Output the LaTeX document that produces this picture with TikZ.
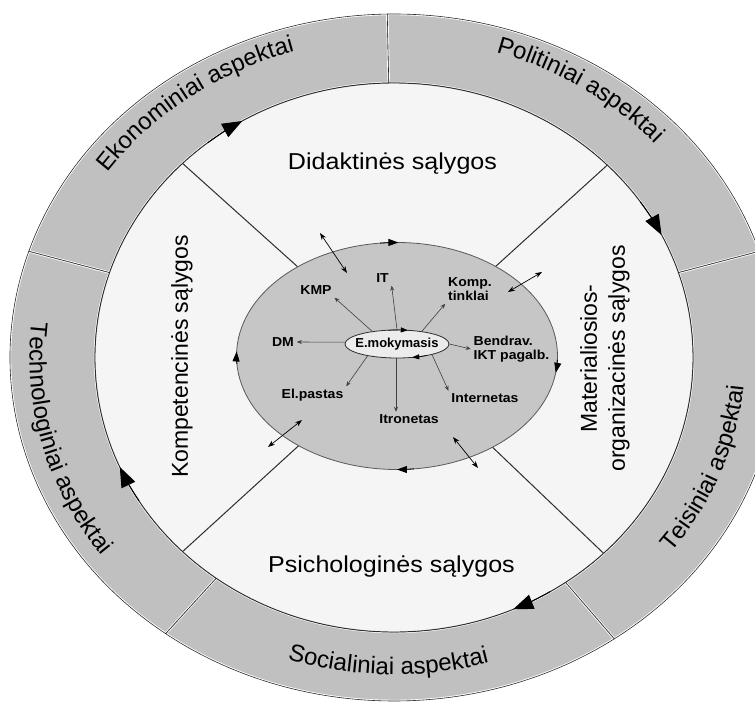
\documentclass[tikz,border=0pt]{standalone}
\usepackage{fontspec}
\setmainfont{Liberation Sans}
\usepackage{tikz}
\usetikzlibrary{
  arrows.meta,
  shapes.geometric,
  decorations.text
}
\usepackage{xcolor}
\definecolor{ringgray}{RGB}{192, 192, 192}
\definecolor{fieldclr}{RGB}{245, 245, 245}
\definecolor{coregray}{RGB}{198, 198, 198}
\definecolor{eyeclr}{RGB}{236, 236, 236}
\definecolor{edgeclr}{RGB}{45, 45, 45}
\newcommand{\ringfont}{\fontsize{24}{29}\selectfont}
\newcommand{\segpath}[2]{(#1:384pt and 343.5pt)
  arc[start angle=#1, end angle=#2, x radius=384pt, y radius=343.5pt]
  -- (#2:299pt and 274.5pt)
  arc[start angle=#2, end angle=#1, x radius=299pt, y radius=274.5pt] -- cycle}
\tikzset{
  % Išorinis žiedas
  ringfill/.style    = {fill=ringgray},
  ringedge/.style    = {draw=edgeclr, line width=0.6pt},
  ringglow/.style    = {draw=white, line width=2.4pt},
  ringtext/.style    = {decorate, decoration={text along path, text align=center,
                        text={|\ringfont|#1}}},
  % Vidinės sritys
  fieldarea/.style   = {fill=fieldclr, draw=edgeclr, line width=0.9pt},
  corearea/.style    = {fill=coregray, draw=black!65, line width=0.8pt},
  spokeline/.style   = {draw=edgeclr, line width=1pt},
  % Rodyklės
  bigtip/.style      = {-{Triangle[length=20pt, width=15pt]}, line width=0.9pt},
  midtip/.style      = {-{Triangle[length=10pt, width=7pt]}, line width=0.8pt},
  smalltip/.style    = {-{Triangle[length=7pt, width=5pt]}, line width=0.6pt},
  feedline/.style    = {-{Stealth[length=5pt, width=4pt]}, draw=black!75, line width=0.6pt},
  twoway/.style      = {{Stealth[length=7pt, width=5pt]}-{Stealth[length=7pt, width=5pt]},
                        line width=0.7pt},
  % Etiketės
  sectlbl/.style     = {font=\fontsize{23}{28}\selectfont, align=center},
  techlbl/.style     = {font=\bfseries\fontsize{13}{14}\selectfont, align=left,
                        inner sep=2.5pt, xscale=1.08},
  eyenode/.style     = {ellipse, fill=eyeclr, draw=edgeclr, line width=0.8pt,
                        minimum width=104pt, minimum height=28pt,
                        inner xsep=-6pt, inner ysep=0pt,
                        font=\bfseries\fontsize{13}{14}\selectfont},
}
\begin{document}
\begin{tikzpicture}[x=1pt, y=1pt]
  \useasboundingbox (-394,-344.5) rectangle (361,357.5);
  % žiedo segmentai
  \foreach \a/\b in {162/91, 91/18, 18/-55, -55/-126.5, -126.5/-198} {
    \begin{scope}
      \clip \segpath{\a}{\b};
      \fill[ringfill] \segpath{\a}{\b};
      \draw[ringglow] \segpath{\a}{\b};
    \end{scope}
    \draw[ringedge] \segpath{\a}{\b};
  }
  \path[ringtext={Ekonominiai aspektai}] (159:351.5pt and 319pt)
    arc[start angle=159, end angle=93, x radius=351.5pt, y radius=319pt];
  \path[ringtext={Politiniai aspektai}] (91:351.5pt and 319pt)
    arc[start angle=91, end angle=23, x radius=351.5pt, y radius=319pt];
  \path[ringtext={Teisiniai aspektai}] (-55:351pt and 318pt)
    arc[start angle=-55, end angle=13, x radius=351pt, y radius=318pt];
  \path[ringtext={Socialiniai aspektai}] (-125:349.5pt and 317pt)
    arc[start angle=-125, end angle=-57, x radius=349.5pt, y radius=317pt];
  \path[ringtext={Technologiniai aspektai}] (161:364.5pt and 332pt)
    arc[start angle=161, end angle=229, x radius=364.5pt, y radius=332pt];

  % vidinė sritis
  \draw[fieldarea] (0,0) ellipse [x radius=299pt, y radius=274.5pt];
  \foreach \t in {44.5, 135, 225, -45.5}
    \draw[spokeline] (\t:299pt and 274.5pt) -- (3,1.5);
  \foreach \t in {120.5, 26.5, -66.5, 203.5}
    \draw[bigtip] (\t+8:299pt and 274.5pt)
      arc[start angle=\t+8, end angle=\t, x radius=299pt, y radius=274.5pt];
  \draw[corearea] (3,1.5) ellipse [x radius=160.5pt, y radius=113.5pt];
  \begin{scope}[shift={(3,1.5)}]
    \foreach \s/\e in {96/89.5, -2/-8.5, 276/270, 184/177.7}
      \draw[midtip] (\s:160.5pt and 113.5pt)
        arc[start angle=\s, end angle=\e, x radius=160.5pt, y radius=113.5pt];
  \end{scope}

  \node[sectlbl, xscale=1.09] (didakt) at (-1.5,193.5) {Didaktinės sąlygos};
  \node[sectlbl, xscale=1.09] (psich) at (-2.5,-209.5) {Psichologinės sąlygos};
  \node[sectlbl, rotate=90] (kompet) at (-212,1) {Kompetencinės sąlygos};
  \node[sectlbl, rotate=90] (mater) at (211,-1) {Materialiosios-\\organizacinės sąlygos};

  % e. mokymosi branduolys
  \node[eyenode] (emok) at (3,13.5) {E.mokymasis};
  \begin{scope}[shift={(3,13.5)}]
    \foreach \s/\e in {100/78, -55/-73}
      \draw[smalltip] (\s:52pt and 14pt)
        arc[start angle=\s, end angle=\e, x radius=52pt, y radius=14pt];
  \end{scope}
  \node[techlbl] (kmp)   at (-78,67)     {KMP};
  \node[techlbl] (it)    at (-11.5,79)   {IT};
  \node[techlbl] (komp)  at (76,68)      {Komp.\\tinklai};
  \node[techlbl] (dm)    at (-111,15.5)  {DM};
  \node[techlbl] (bendr) at (117.5,8.5)  {Bendrav.\\IKT pagalb.};
  \node[techlbl] (epast) at (-81.5,-37.5) {El.pastas};
  \node[techlbl] (itron) at (15,-61.5)   {Itronetas};
  \node[techlbl] (inet)  at (91,-40.5)   {Internetas};
  \foreach \n/\t/\e in {kmp/153/south east, it/90/south east, komp/27.5/south west,
                        dm/178/east, bendr/0/west, epast/202/north east,
                        inet/343/north west}
    \draw[feedline] (emok.\t) -- (\n.\e);
  \draw[feedline] (emok.266) -- (emok.266 |- itron.north);

  % abipusės rodyklės
  \coordinate (tl1) at (-74,124.5);  \coordinate (tl2) at (-47,84.5);
  \coordinate (tr1) at (148,85.5);   \coordinate (tr2) at (114,65.5);
  \coordinate (bl1) at (-126,-89.5); \coordinate (bl2) at (-92,-62.5);
  \coordinate (br1) at (59,-79.5);   \coordinate (br2) at (84,-110.5);
  \foreach \p in {tl, tr, bl, br}
    \draw[twoway] (\p1) -- (\p2);
\end{tikzpicture}
\end{document}
